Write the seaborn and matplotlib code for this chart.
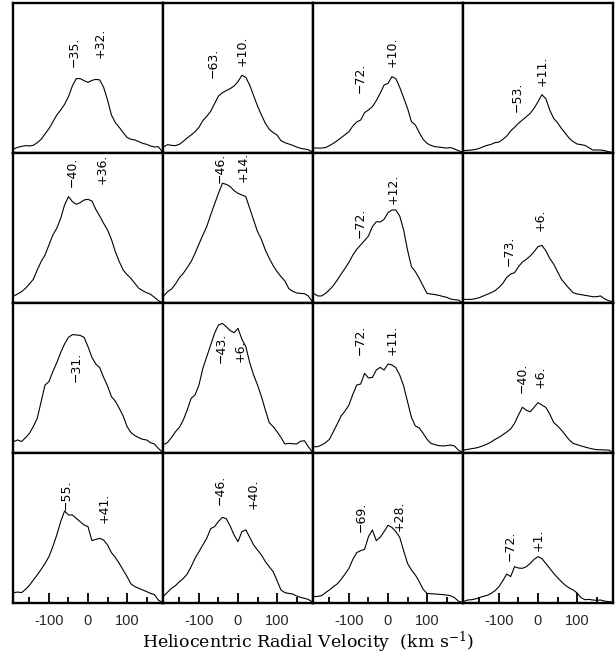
import matplotlib
matplotlib.use("Agg")
import matplotlib.pyplot as plt
import pandas as pd
import seaborn as sns

# Heliocentric radial velocity sampling (km/s)
velocity = [-190, -180, -170, -160, -150, -140, -130, -120, -110, -100,
            -90, -80, -70, -60, -50, -40, -30, -20, -10, 0,
            10, 20, 30, 40, 50, 60, 70, 80, 90, 100,
            110, 120, 130, 140, 150, 160, 170, 180, 190]

# Line profiles, row by row (relative intensity)
profile_r1c1 = [2.7, 3.8, 4.4, 4.9, 4.7, 5.1, 6.9, 9.1, 12.7, 16.2, 20.7, 25.3, 28.7, 32.4, 37.6, 44.7, 49.6, 49.6, 48.2, 47.1,
                48.4, 49.1, 48.7, 43.8, 35.3, 25.3, 20.2, 17.1, 13.6, 10.4, 9.1, 8.7, 7.6, 6.4, 5.8, 4.7, 4.0, 4.2, 0.9]
profile_r1c2 = [4.2, 5.6, 5.1, 4.9, 5.8, 7.8, 10.0, 12.0, 14.2, 17.1, 21.6, 24.4, 27.8, 32.9, 38.0, 40.2, 41.6, 42.9, 44.7, 47.6,
                51.8, 50.4, 45.3, 38.2, 31.3, 25.3, 19.8, 15.8, 13.6, 12.0, 8.2, 6.9, 6.0, 5.1, 4.0, 3.1, 2.7, 2.2, 0.7]
profile_r1c3 = [3.3, 3.3, 3.3, 3.6, 4.9, 6.4, 8.2, 10.2, 12.2, 14.2, 18.0, 20.7, 22.0, 26.9, 28.7, 30.9, 34.9, 39.8, 45.3, 46.4,
                50.9, 49.6, 43.8, 36.9, 29.8, 20.9, 18.7, 13.6, 9.1, 6.4, 5.1, 4.2, 4.0, 3.6, 3.3, 3.6, 2.7, 1.6, 0.7]
profile_r1c4 = [1.6, 1.8, 2.0, 2.4, 3.1, 4.2, 5.1, 5.8, 6.9, 7.3, 9.1, 11.3, 14.7, 17.1, 19.8, 22.0, 24.2, 26.4, 29.8, 34.2,
                38.9, 36.2, 28.7, 23.1, 20.2, 16.4, 13.1, 9.8, 7.6, 6.0, 5.6, 5.1, 3.6, 2.0, 2.0, 2.0, 1.6, 0.9, 0.4]

profile_r2c1 = [4.7, 6.0, 7.6, 9.8, 12.7, 15.8, 22.0, 27.6, 32.0, 38.7, 45.3, 49.8, 56.4, 65.3, 70.9, 67.6, 65.8, 66.9, 68.7, 69.1,
                68.0, 62.4, 58.0, 53.1, 48.7, 42.4, 34.2, 27.6, 22.0, 18.9, 16.4, 13.1, 9.8, 8.2, 6.9, 5.8, 3.8, 1.6, 0.2]
profile_r2c2 = [4.7, 7.6, 9.3, 12.7, 16.9, 19.8, 23.6, 27.6, 33.1, 39.3, 45.3, 50.9, 58.7, 66.0, 73.1, 79.8, 79.1, 77.6, 74.9, 73.1,
                72.0, 70.9, 63.1, 55.3, 47.6, 42.4, 35.3, 29.8, 24.9, 20.9, 17.6, 14.7, 9.6, 7.8, 6.7, 6.4, 6.2, 4.7, 0.9]
profile_r2c3 = [6.4, 4.7, 4.7, 6.4, 8.7, 11.6, 15.3, 19.3, 23.1, 27.1, 32.0, 35.8, 38.7, 41.6, 44.7, 50.9, 54.2, 54.0, 55.8, 60.2,
                62.0, 62.0, 58.0, 48.7, 35.3, 24.2, 20.9, 16.4, 11.3, 6.4, 6.0, 5.6, 5.1, 4.4, 3.8, 2.7, 2.2, 2.0, 0.4]
profile_r2c4 = [2.4, 2.4, 2.4, 2.9, 3.6, 4.7, 5.8, 6.9, 8.2, 10.4, 13.1, 17.1, 19.3, 20.2, 24.2, 27.3, 29.1, 31.3, 34.2, 37.6,
                38.4, 34.9, 29.8, 26.0, 20.9, 15.8, 12.7, 9.6, 6.9, 6.0, 5.6, 5.1, 4.7, 4.2, 4.2, 4.7, 2.9, 1.6, 0.9]

profile_r3c1 = [7.6, 8.7, 7.6, 10.2, 13.1, 17.6, 23.1, 34.2, 45.3, 47.6, 54.2, 60.2, 66.9, 72.7, 77.1, 78.9, 78.7, 78.4, 77.1, 70.9,
                63.8, 59.3, 56.9, 50.4, 44.7, 37.6, 34.5, 29.8, 24.7, 17.6, 13.6, 11.6, 10.2, 9.1, 8.7, 6.9, 6.0, 3.1, 0.7]
profile_r3c2 = [5.6, 7.1, 10.4, 14.2, 17.1, 22.0, 28.7, 36.4, 38.7, 45.3, 56.4, 64.2, 72.0, 79.8, 85.3, 86.4, 84.2, 81.6, 80.2, 83.1,
                75.8, 70.9, 60.2, 52.0, 45.3, 37.6, 28.7, 20.2, 17.6, 14.2, 10.4, 6.0, 6.4, 6.2, 6.0, 7.8, 8.2, 4.2, 0.7]
profile_r3c3 = [4.2, 4.2, 5.3, 6.9, 9.1, 14.2, 19.3, 24.7, 28.0, 32.0, 39.1, 45.3, 46.0, 53.1, 50.0, 50.4, 55.3, 57.1, 55.3, 59.3,
                58.7, 56.9, 52.0, 44.7, 34.2, 23.8, 18.0, 16.7, 13.1, 9.1, 6.4, 5.6, 4.9, 4.7, 4.9, 5.3, 4.7, 2.0, 0.4]
profile_r3c4 = [2.0, 2.4, 2.9, 3.3, 4.0, 4.9, 6.0, 7.3, 9.1, 10.4, 12.2, 14.0, 16.0, 19.8, 25.3, 30.5, 28.5, 27.5, 30.4, 33.6,
                32.0, 30.4, 26.0, 20.4, 18.0, 15.3, 12.0, 8.7, 6.4, 5.6, 4.7, 4.0, 3.3, 2.7, 2.2, 2.2, 2.0, 2.0, 0.9]

profile_r4c1 = [6.9, 7.3, 6.9, 9.1, 11.8, 15.3, 18.7, 22.4, 26.4, 30.9, 37.6, 45.3, 54.2, 61.3, 58.7, 58.7, 56.4, 54.2, 52.0, 50.9,
                41.6, 42.4, 43.1, 42.0, 38.7, 33.6, 30.4, 26.4, 22.0, 17.6, 12.7, 10.9, 9.8, 8.7, 7.6, 6.4, 5.6, 2.0, 0.4]
profile_r4c2 = [4.7, 7.3, 9.8, 11.6, 14.2, 16.4, 19.3, 24.2, 29.8, 34.2, 38.7, 43.1, 49.6, 50.9, 54.4, 57.1, 56.2, 51.3, 45.3, 40.9,
                47.6, 48.7, 43.8, 38.7, 35.3, 32.0, 27.6, 24.2, 20.9, 14.9, 8.7, 6.9, 6.4, 6.0, 4.7, 3.8, 3.1, 2.4, 0.7]
profile_r4c3 = [4.2, 4.4, 4.9, 6.9, 8.7, 10.9, 12.7, 15.8, 19.3, 23.1, 29.1, 33.6, 34.9, 35.8, 44.2, 48.7, 41.6, 43.8, 47.6, 51.8,
                50.4, 47.6, 43.8, 34.9, 26.4, 22.0, 18.7, 14.2, 9.1, 6.4, 6.2, 6.0, 5.8, 5.6, 5.3, 4.9, 3.6, 1.3, 0.2]
profile_r4c4 = [1.1, 2.0, 2.2, 2.7, 3.6, 4.4, 5.1, 6.4, 8.2, 10.9, 14.9, 19.3, 17.6, 24.2, 23.3, 23.1, 24.2, 26.4, 29.1, 30.9,
                29.6, 26.4, 23.1, 19.8, 16.9, 14.2, 11.8, 10.0, 8.7, 6.7, 3.6, 2.2, 2.4, 2.0, 1.8, 2.0, 1.3, 0.9, 0.7]

# Fitted component velocities (km/s) for each panel
peaks_r1 = [[-35, 32], [-63, 10], [-72, 10], [-53, 11]]
peaks_r2 = [[-40, 36], [-46, 14], [-72, 12], [-73, 6]]
peaks_r3 = [[-31], [-43, 6], [-72, 11], [-40, 6]]
peaks_r4 = [[-55, 41], [-46, 40], [-69, 28], [-72, 1]]

# Vertical placement of the velocity annotations (same units as the profiles)
label_heights = [
    [57.6, 63.1], [49.8, 58.0], [39.8, 57.6], [27.1, 44.7],
    [77.6, 79.3], [80.2, 80.9], [43.1, 66.0], [24.9, 48.0],
    [47.6], [59.8, 60.9], [65.3, 65.3], [39.8, 43.1],
    [62.0, 53.6], [65.3, 62.4], [47.6, 48.2], [28.2, 34.9],
]

tick_major = [-100, 0, 100]
tick_minor = [-150, -50, 50, 150]
tick_labels = ["-100", "0", "100"]

profiles = [profile_r1c1, profile_r1c2, profile_r1c3, profile_r1c4,
            profile_r2c1, profile_r2c2, profile_r2c3, profile_r2c4,
            profile_r3c1, profile_r3c2, profile_r3c3, profile_r3c4,
            profile_r4c1, profile_r4c2, profile_r4c3, profile_r4c4]
peaks = peaks_r1 + peaks_r2 + peaks_r3 + peaks_r4

sns.set_theme(style="ticks")
plt.rcParams.update({
    "font.family": ["DejaVu Sans"],
    "axes.unicode_minus": False,
    "mathtext.fontset": "dejavuserif",
    "axes.edgecolor": "black",
    "axes.linewidth": 1.7,
})

W, H = 615, 655
fig, axes = plt.subplots(4, 4, figsize=(W / 100, H / 100), dpi=100)
fig.subplots_adjust(left=13 / W, right=613 / W, bottom=1 - 603 / H, top=1 - 3 / H,
                    wspace=0, hspace=0)


def fmt_velocity(v):
    sign = "\u2212" if v < 0 else "+"
    return f"{sign}{abs(v)}."


for idx, ax in enumerate(axes.flat):
    row = idx // 4
    df = pd.DataFrame({"velocity": velocity, "intensity": profiles[idx]})
    sns.lineplot(data=df, x="velocity", y="intensity", ax=ax,
                 color="black", linewidth=0.8, estimator=None, sort=False)
    ax.set_xlim(-192, 192)
    ax.set_ylim(0, 100)
    ax.set_xlabel("")
    ax.set_ylabel("")
    ax.set_yticks([])
    for spine in ax.spines.values():
        spine.set_linewidth(1.7)
        spine.set_color("black")

    if row == 3:
        ax.set_xticks(tick_major)
        ax.set_xticks(tick_minor, minor=True)
        ax.set_xticklabels(tick_labels)
        ax.tick_params(axis="x", which="major", direction="in", length=7.5, width=1.3,
                       color="black", bottom=True, labelbottom=True, pad=8, labelsize=10.5)
        ax.tick_params(axis="x", which="minor", direction="in", length=4, width=1.3,
                       color="black", bottom=True)
        for lbl in ax.get_xticklabels():
            lbl.set_family("Liberation Sans")
    else:
        ax.set_xticks([])
        ax.set_xticks([], minor=True)

    for v, h in zip(peaks[idx], label_heights[idx]):
        ax.text(v, h, fmt_velocity(v), rotation=90, ha="center", va="bottom",
                fontsize=9, color="black", family="DejaVu Sans")

fig.text(308 / W, 1 - 642 / H, r"Heliocentric Radial Velocity  (km s$^{-1}$)",
         ha="center", va="center", fontsize=12.5, family="DejaVu Serif", color="black")

fig.savefig("out.png", dpi=100)
